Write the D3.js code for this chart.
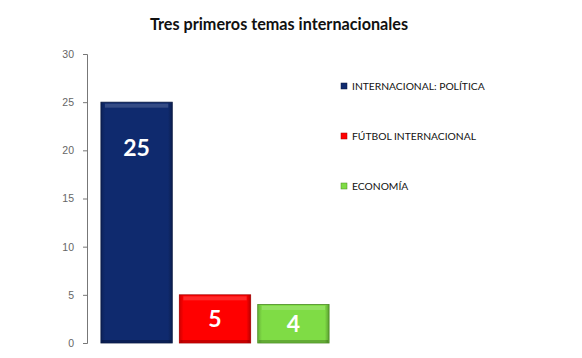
<!DOCTYPE html>
<html><head><meta charset="utf-8">
<script src="https://cdn.jsdelivr.net/npm/d3@7"></script>
<style>body{margin:0;background:#fff;} svg{display:block;}</style>
</head><body>
<svg id="c" width="582" height="358"></svg>
<script>
const title = "Tres primeros temas internacionales";
const categories = ["INTERNACIONAL: POLÍTICA", "FÚTBOL INTERNACIONAL", "ECONOMÍA"];
const values = [25, 5, 4];
const colors = ["#0f2a6e", "#ff0000", "#7fdc45"];
const borderColors = ["#08173f", "#a50000", "#4a8a22"];
const yTicks = [0, 5, 10, 15, 20, 25, 30];

const svg = d3.select("#c");
const defs = svg.append("defs");

const y = d3.scaleLinear().domain([0, 30]).range([343, 54]);
const x = d3.scaleBand().domain(categories).range([97, 333]).paddingInner(0.09).paddingOuter(0.05);

svg.append("text").attr("x", 279).attr("y", 30).attr("text-anchor", "middle")
  .attr("font-family", "Lato").attr("font-weight", 700).attr("font-size", 16.2).attr("fill", "#111")
  .text(title);

const yAxis = svg.append("g").attr("transform", "translate(87,0)")
  .call(d3.axisLeft(y).tickValues(yTicks).tickSize(4).tickPadding(9));
yAxis.select(".domain").attr("stroke", "#777");
yAxis.selectAll(".tick line").attr("stroke", "#777");
yAxis.selectAll("text").attr("font-family", "Liberation Sans").attr("font-size", 10.5).attr("fill", "#666");

categories.forEach((c, i) => {
  const g = defs.append("linearGradient").attr("id", "g" + i).attr("x1", 0).attr("x2", 1).attr("y1", 0).attr("y2", 0);
  g.append("stop").attr("offset", "0%").attr("stop-color", d3.color(colors[i]).darker(0.6));
  g.append("stop").attr("offset", "6%").attr("stop-color", colors[i]);
  g.append("stop").attr("offset", "94%").attr("stop-color", colors[i]);
  g.append("stop").attr("offset", "100%").attr("stop-color", d3.color(colors[i]).darker(0.9));
});

const bars = svg.selectAll("g.bar").data(categories).join("g").attr("class", "bar");
bars.append("rect")
  .attr("x", d => x(d)).attr("y", (d, i) => y(values[i]))
  .attr("width", x.bandwidth()).attr("height", (d, i) => y(0) - y(values[i]))
  .attr("fill", (d, i) => `url(#g${i})`)
  .attr("stroke", (d, i) => borderColors[i]).attr("stroke-width", 0.8);
bars.append("rect")
  .attr("x", d => x(d) + 4).attr("y", (d, i) => y(values[i]) + 1.5)
  .attr("width", x.bandwidth() - 8).attr("height", 4)
  .attr("fill", "#fff").attr("opacity", 0.16);
bars.append("rect")
  .attr("x", d => x(d) + 1).attr("y", (d, i) => y(0) - 3)
  .attr("width", x.bandwidth() - 2).attr("height", 2.5)
  .attr("fill", "#000").attr("opacity", 0.22);

bars.append("text")
  .attr("x", d => x(d) + x.bandwidth() / 2)
  .attr("y", (d, i) => {
    const top = y(values[i]), bottom = y(0);
    return Math.min((top + bottom) / 2, top + 46) + 8;
  })
  .attr("text-anchor", "middle")
  .attr("font-family", "Lato").attr("font-weight", 700).attr("font-size", 23).attr("fill", "#fff")
  .text((d, i) => values[i]);

const legend = svg.selectAll("g.leg").data(categories).join("g").attr("class", "leg")
  .attr("transform", (d, i) => `translate(341,${86 + i * 50})`);
legend.append("rect").attr("x", 0).attr("y", -3).attr("width", 6).attr("height", 6)
  .attr("fill", (d, i) => colors[i]).attr("stroke", (d, i) => borderColors[i]).attr("stroke-width", 0.5);
legend.append("text").attr("x", 11).attr("y", 3.5)
  .attr("font-family", "Lato").attr("font-size", 10.3).attr("fill", "#111")
  .text(d => d);
</script>
</body></html>
